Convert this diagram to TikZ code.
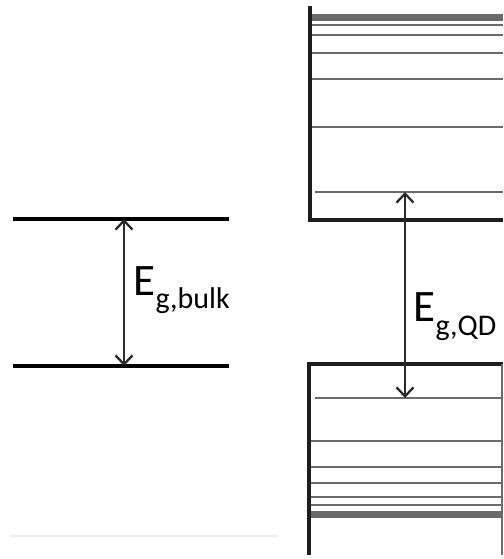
\documentclass[tikz,border=0pt]{standalone}
\usepackage{fontspec}
\setmainfont{Carlito}
\usetikzlibrary{arrows.meta}
\definecolor{lvl}{HTML}{6A6A6A}
\definecolor{edge}{HTML}{1E1E1E}
\definecolor{arr}{HTML}{2A2A2A}
\tikzset{
  bulkline/.style={line width=3.6pt, black},
  boxline/.style={line width=3.2pt, edge},
  level/.style={line width=2.6pt, lvl},
  band/.style={line width=7pt, lvl},
  gap/.style={line width=2.3pt, arr, {Straight Barb[length=9pt,width=17pt,line width=2.3pt]}-{Straight Barb[length=9pt,width=17pt,line width=2.3pt]}},
  biglabel/.style={inner sep=0pt, anchor=base west, font=\fontsize{45}{50}\selectfont},
}
\begin{document}
\begin{tikzpicture}[x=1pt,y=-1pt]
\useasboundingbox (0,0) rectangle (503,559);
% bulk
\coordinate (bt1) at (13,219); \coordinate (bt2) at (229,219);
\coordinate (bb1) at (13,366); \coordinate (bb2) at (229,366);
\draw[bulkline] (bt1) -- (bt2);
\draw[bulkline] (bb1) -- (bb2);
\coordinate (ba) at (124,219); \coordinate (bz) at (124,366);
\draw[gap] (ba) -- (bz);
\node[biglabel] (lb) at (133.5,295) {E\raisebox{-13pt}{\fontsize{30}{34}\selectfont g,bulk}};
% faint base line
\coordinate (f1) at (10,536); \coordinate (f2) at (278,536);
\draw[line width=1.5pt, black!8] (f1) -- (f2);
% QD upper box
\coordinate (u0) at (310,6); \coordinate (u1) at (310,220); \coordinate (u2) at (503,220);
\draw[boxline] (u0) -- (u1) -- (u2);
\draw[band] (312,17.5) -- (503,17.5);
\foreach \y in {25,35,53,79,127} \draw[level] (312,\y) -- (503,\y);
\coordinate (cb) at (315,192); \coordinate (cbe) at (503,192);
\draw[level] (cb) -- (cbe);
% QD lower box
\coordinate (l0) at (309,555); \coordinate (l1) at (309,364); \coordinate (l2) at (503,364);
\draw[boxline] (l0) -- (l1) -- (l2);
\coordinate (r1) at (502,364); \coordinate (r2) at (502,555);
\draw[line width=1.2pt, lvl] (r1) -- (r2);
\coordinate (vb) at (315,398); \coordinate (vbe) at (501,398);
\draw[level] (vb) -- (vbe);
\foreach \y in {441,467,483,497,505} \draw[level] (311,\y) -- (501,\y);
\draw[band] (311,514.5) -- (501,514.5);
\coordinate (qa) at (405,192); \coordinate (qz) at (405,398);
\draw[gap] (qa) -- (qz);
\node[biglabel] (lq) at (413.5,321) {E\raisebox{-14pt}{\fontsize{30}{34}\selectfont g,QD}};
\end{tikzpicture}
\end{document}
